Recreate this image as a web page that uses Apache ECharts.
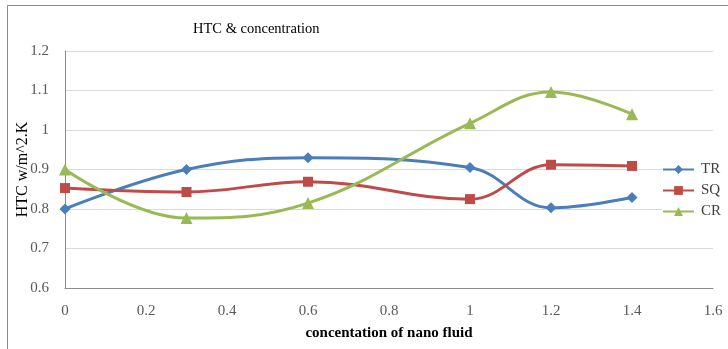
<!DOCTYPE html>
<html>
<head>
<meta charset="utf-8">
<script src="https://cdn.jsdelivr.net/npm/echarts@6/dist/echarts.min.js"></script>
<style>
html,body{margin:0;padding:0;background:#fff;}
#frame{position:absolute;left:7px;top:5px;width:740px;height:360px;border:1px solid #8c8c8c;box-sizing:border-box;}
#chart{position:absolute;left:0;top:0;width:728px;height:349px;}
</style>
</head>
<body>
<div id="frame"></div>
<div id="chart"></div>
<script>
const concentration = [0, 0.3, 0.6, 1.0, 1.2, 1.4];
const trValues = [0.80, 0.90, 0.930, 0.905, 0.803, 0.829];
const sqValues = [0.853, 0.843, 0.869, 0.825, 0.912, 0.909];
const crValues = [0.900, 0.777, 0.815, 1.017, 1.096, 1.040];
const seriesNames = ['TR', 'SQ', 'CR'];

const font = 'Liberation Serif';
function pairs(vals){ return concentration.map((x,i)=>[x, vals[i]]); }

const chart = echarts.init(document.getElementById('chart'), null, {renderer:'canvas'});
chart.setOption({
  backgroundColor: 'transparent',
  animation: false,
  title: {
    text: 'HTC & concentration',
    left: 188, top: 17,
    textStyle: {fontFamily: font, fontSize: 14.5, fontWeight: 'normal', color: '#000'}
  },
  legend: {
    orient: 'vertical',
    left: 662, top: 162,
    itemWidth: 31, itemHeight: 11, itemGap: 6,
    backgroundColor: '#fff',
    padding: [0,0,0,0],
    textStyle: {fontFamily: font, fontSize: 15, color: '#404040', padding:[0,0,0,2]},
    data: seriesNames
  },
  grid: {left: 65, right: 15, top: 51, bottom: 61, containLabel: false},
  xAxis: {
    type: 'value', min: 0, max: 1.6, interval: 0.2,
    name: 'concentation of nano fluid', nameLocation: 'middle', nameGap: 38,
    nameTextStyle: {fontFamily: font, fontSize: 15, fontWeight: 'bold', color: '#000'},
    axisLine: {show: true, lineStyle: {color: '#8c8c8c', width: 1}},
    axisTick: {show: false},
    splitLine: {show: false},
    axisLabel: {fontFamily: font, fontSize: 15, color: '#595959', margin: 16}
  },
  yAxis: {
    type: 'value', min: 0.6, max: 1.2, interval: 0.1,
    name: 'HTC w/m^2.K', nameLocation: 'middle', nameGap: 34, nameRotate: 90,
    nameMoveOverlap: false,
    nameTextStyle: {fontFamily: font, fontSize: 16, color: '#000'},
    axisLine: {show: true, lineStyle: {color: '#8c8c8c', width: 1}},
    axisTick: {show: false},
    splitLine: {show: true, lineStyle: {color: '#d9d9d9', width: 1}},
    axisLabel: {fontFamily: font, fontSize: 15, color: '#595959', margin: 16,
      formatter: v => (Math.round(v*10)/10).toString()}
  },
  series: [
    {name: 'TR', type: 'line', data: pairs(trValues), smooth: 0.4,
     symbol: 'diamond', symbolSize: 11,
     lineStyle: {color: '#4a7ebb', width: 3}, itemStyle: {color: '#4a7ebb'}},
    {name: 'SQ', type: 'line', data: pairs(sqValues), smooth: 0.4,
     symbol: 'rect', symbolSize: 10,
     lineStyle: {color: '#be4b48', width: 3}, itemStyle: {color: '#be4b48'}},
    {name: 'CR', type: 'line', data: pairs(crValues), smooth: 0.4,
     symbol: 'triangle', symbolSize: 12,
     lineStyle: {color: '#98b954', width: 3}, itemStyle: {color: '#98b954'}}
  ]
});
</script>
</body>
</html>
